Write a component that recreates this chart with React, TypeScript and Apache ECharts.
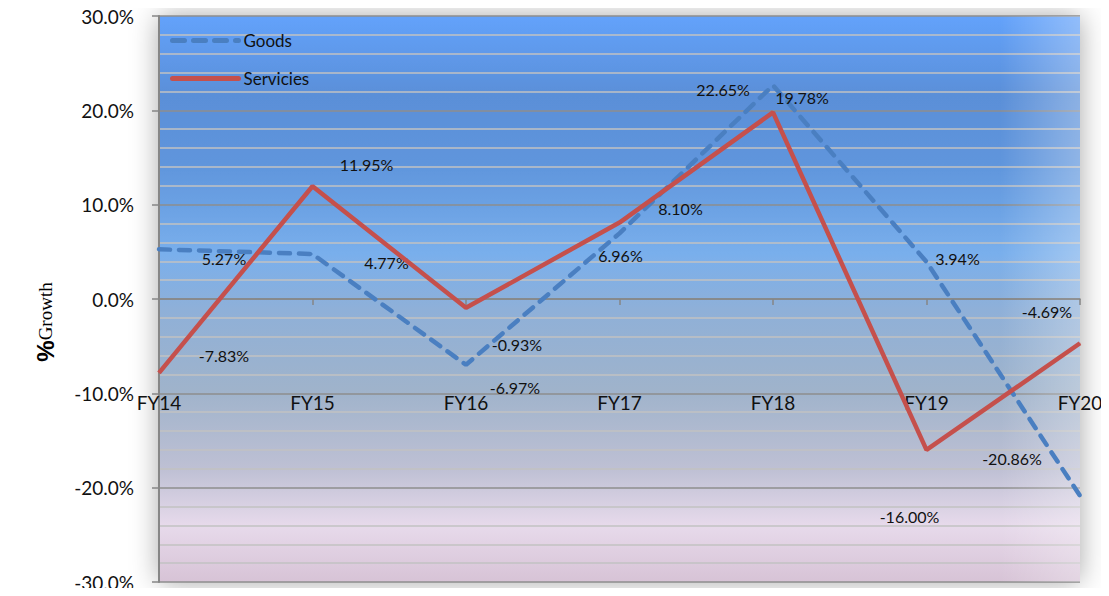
import React, { useEffect, useRef } from "react";
import * as echarts from "echarts";

const categories = ["FY14", "FY15", "FY16", "FY17", "FY18", "FY19", "FY20"];
const goods = [5.27, 4.77, -6.97, 6.96, 22.65, 3.94, -20.86];
const services = [-7.83, 11.95, -0.93, 8.1, 19.78, -16.0, -4.69];
// label placement (pixel offsets from each point), as in the original chart
const goodsLabelOffsets = [[65, 9], [74, 8], [49, 23], [1, 22], [-50, 4], [31, -3], [-68, -37]];
const servicesLabelOffsets = [[65, -17], [54, -22], [51, 37], [61, -14], [29, -15], [-17, 67], [-33, -32]];
const yMin = -30;
const yMax = 30;
const yInterval = 10;

const FONT = "Lato, 'Open Sans', sans-serif";

export default function App() {
  const ref = useRef<HTMLDivElement>(null);
  useEffect(() => {
    if (!ref.current) return;
    const chart = echarts.init(ref.current, null, { renderer: "svg" });
    const mkData = (vals: number[], offs: number[][]) =>
      vals.map((v, i) => ({ value: v, label: { offset: offs[i] } }));
    const labelCommon = {
      show: true,
      position: "inside",
      color: "#111",
      fontSize: 16,
      fontFamily: FONT,
      formatter: (p: any) => Number(p.value).toFixed(2) + "%",
    };
    chart.setOption({
      animation: false,
      backgroundColor: "#ffffff",
      grid: {
        left: 159,
        right: 29,
        top: 16,
        bottom: 14,
        containLabel: false,
        outerBoundsMode: "none",
        show: true,
        borderWidth: 0,
        shadowBlur: 28,
        shadowColor: "rgba(0,0,0,0.35)",
        backgroundColor: {
          type: "linear",
          x: 0,
          y: 0,
          x2: 0,
          y2: 1,
          colorStops: [
            { offset: 0, color: "#63a2fb" },
            { offset: 0.14, color: "#5a8fd8" },
            { offset: 0.26, color: "#5f95dc" },
            { offset: 0.42, color: "#79afec" },
            { offset: 0.52, color: "#8fb0d8" },
            { offset: 0.66, color: "#9fb3cb" },
            { offset: 0.8, color: "#bec0d4" },
            { offset: 0.9, color: "#e7daeb" },
            { offset: 1, color: "#d7c3d6" },
          ],
        },
      },
      graphic: [
        {
          type: "rect",
          z: 1,
          silent: true,
          shape: { x: 1000, y: 16, width: 80, height: 566 },
          style: {
            fill: {
              type: "linear",
              x: 0,
              y: 0,
              x2: 1,
              y2: 0,
              colorStops: [
                { offset: 0, color: "rgba(255,255,255,0)" },
                { offset: 1, color: "rgba(255,255,255,0.3)" },
              ],
            },
          },
        },
        {
          type: "text",
          x: 45,
          y: 322,
          rotation: Math.PI / 2,
          style: {
            text: "{a|%}{b|Growth}",
            align: "center",
            verticalAlign: "middle",
            rich: {
              a: { fontFamily: "'Liberation Sans', Arial, sans-serif", fontWeight: "bold", fontSize: 24, fill: "#000" },
              b: { fontFamily: "'Liberation Serif', 'DejaVu Serif', serif", fontSize: 19, fill: "#000" },
            },
          },
        },
      ],
      legend: {
        orient: "vertical",
        left: 165,
        top: 27,
        itemWidth: 66,
        itemHeight: 14,
        itemGap: 21,
        itemStyle: { opacity: 0 },
        textStyle: { fontSize: 17, color: "#111", fontFamily: FONT },
        data: [
          { name: "Goods", lineStyle: { width: 5, type: [12, 9], cap: "round" } },
          { name: "Servicies", lineStyle: { width: 5, cap: "round" } },
        ],
      },
      xAxis: [
        {
          type: "category",
          data: categories,
          boundaryGap: false,
          axisLine: { onZero: true, lineStyle: { color: "#868686", width: 1.5 } },
          axisTick: { show: true, length: 6, lineStyle: { color: "#868686", width: 1.5 } },
          axisLabel: { show: false },
          splitLine: { show: false },
          z: 3,
        },
        {
          type: "category",
          data: categories,
          boundaryGap: false,
          position: "bottom",
          offset: -189,
          axisLine: { show: false, onZero: false },
          axisTick: { show: false },
          axisLabel: { margin: 0, fontSize: 19, color: "#111", fontFamily: FONT, interval: 0 },
          splitLine: { show: false },
          z: 3,
        },
      ],
      yAxis: {
        type: "value",
        min: yMin,
        max: yMax,
        interval: yInterval,
        axisLine: { show: true, lineStyle: { color: "#868686", width: 2 } },
        axisTick: { show: true, length: 7, lineStyle: { color: "#868686", width: 1.5 } },
        axisLabel: {
          margin: 25,
          fontSize: 19,
          color: "#111",
          fontFamily: FONT,
          formatter: (v: number) => v.toFixed(1) + "%",
        },
        splitLine: { show: true, lineStyle: { color: "#8e8e8e", width: 1.5 } },
        minorTick: { show: false, splitNumber: 5 },
        minorSplitLine: { show: true, lineStyle: { color: "#c2c2c2", width: 1.5 } },
      },
      series: [
        {
          name: "Goods",
          type: "line",
          data: mkData(goods, goodsLabelOffsets),
          symbol: "circle",
          symbolSize: 1,
          itemStyle: { color: "#4a7fc1" },
          lineStyle: { color: "#4a7fc1", width: 4.5, type: [11, 9], cap: "round" },
          label: labelCommon,
          z: 4,
        },
        {
          name: "Servicies",
          type: "line",
          data: mkData(services, servicesLabelOffsets),
          symbol: "circle",
          symbolSize: 1,
          itemStyle: { color: "#c5504c" },
          lineStyle: { color: "#c5504c", width: 4.5 },
          label: labelCommon,
          z: 5,
        },
      ],
    });
    return () => chart.dispose();
  }, []);
  return <div ref={ref} style={{ width: 1109, height: 596, margin: -8 }} />;
}
